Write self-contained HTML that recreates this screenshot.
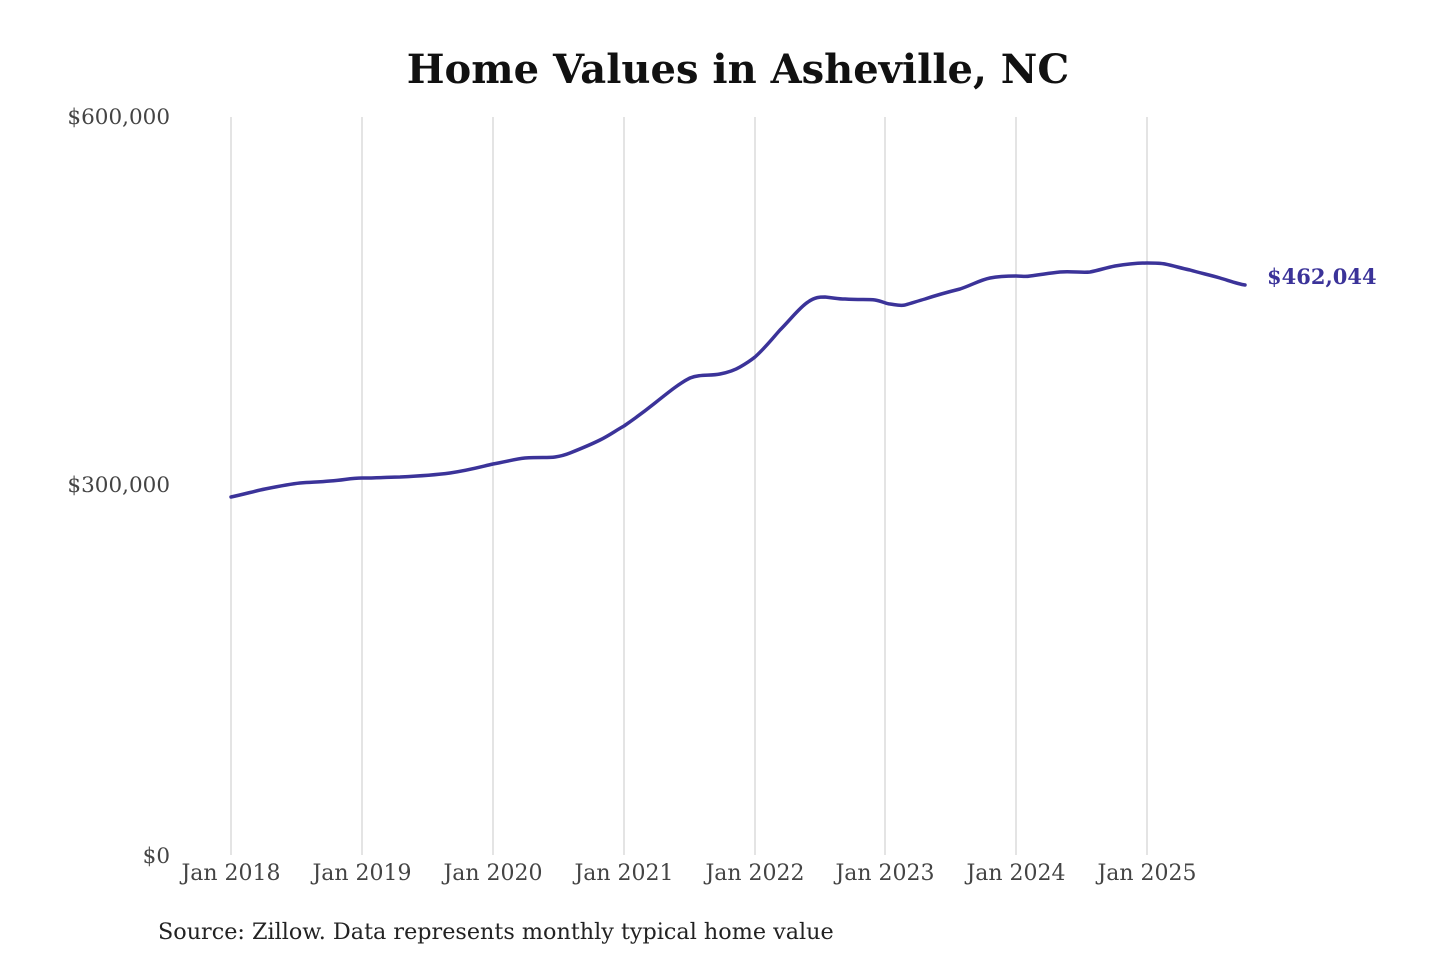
<!DOCTYPE html>
<html><head><style>
html,body{margin:0;padding:0;background:#fff;}
svg{display:block;}
</style></head><body>
<svg width="1440" height="960" xmlns="http://www.w3.org/2000/svg" font-family="'DejaVu Serif','Liberation Serif',serif">
<text x="738" y="83" text-anchor="middle" font-size="40" font-weight="bold" fill="#111">Home Values in Asheville, NC</text>
<g stroke="#c8c8c8" stroke-width="1">
<line x1="231" y1="117" x2="231" y2="855"/>
<line x1="362" y1="117" x2="362" y2="855"/>
<line x1="493" y1="117" x2="493" y2="855"/>
<line x1="624" y1="117" x2="624" y2="855"/>
<line x1="755" y1="117" x2="755" y2="855"/>
<line x1="885" y1="117" x2="885" y2="855"/>
<line x1="1016" y1="117" x2="1016" y2="855"/>
<line x1="1147" y1="117" x2="1147" y2="855"/>
</g>
<g font-size="21.5" fill="#444" text-anchor="end">
<text x="170" y="124">$600,000</text>
<text x="170" y="492">$300,000</text>
<text x="170" y="863">$0</text>
</g>
<g font-size="22" fill="#444" text-anchor="middle">
<text x="231" y="880">Jan 2018</text>
<text x="362" y="880">Jan 2019</text>
<text x="493" y="880">Jan 2020</text>
<text x="624" y="880">Jan 2021</text>
<text x="755" y="880">Jan 2022</text>
<text x="885" y="880">Jan 2023</text>
<text x="1016" y="880">Jan 2024</text>
<text x="1147" y="880">Jan 2025</text>
</g>
<path fill="none" stroke="#3b3399" stroke-width="3.5" stroke-linejoin="round" stroke-linecap="round"
d="M231,497 C245,494 255,491 265,489 C280,486 290,484 300,483 C315,482 320,482 330,481 C345,480 350,478 362,478 C380,478 390,477 400,477 C420,476 435,475 450,473 C470,470 480,467 493,464 C505,462 515,459 525,458 C540,457 548,458 555,457 C562,456 565,455 570,453 C585,447 590,445 600,440 C610,435 615,431 624,426 C637,417 645,411 655,403 C670,391 680,383 690,378 C700,374 710,376 720,374 C730,372 735,370 740,367 C747,363 750,361 755,357 C765,348 772,339 780,330 C790,320 800,307 808,302 C815,297 820,297 825,297 C835,298 838,299 845,299 C860,300 868,299 875,300 C882,301 886,304 890,304 C897,305 900,306 905,305 C912,303 918,301 925,299 C940,294 948,292 960,289 C972,285 980,280 990,278 C1000,276 1008,276 1016,276 C1022,276 1025,277 1030,276 C1045,274 1050,273 1060,272 C1072,271 1082,273 1090,272 C1100,270 1105,268 1115,266 C1128,264 1138,263 1147,263 C1155,263 1160,263 1165,264 C1175,266 1180,268 1190,270 C1200,273 1210,275 1220,278 C1230,281 1238,284 1245,285"/>
<text x="1267" y="284" font-size="21" font-weight="bold" fill="#3b3399">$462,044</text>
<text x="158" y="939" font-size="22.3" fill="#222">Source: Zillow. Data represents monthly typical home value</text>
</svg>
</body></html>
